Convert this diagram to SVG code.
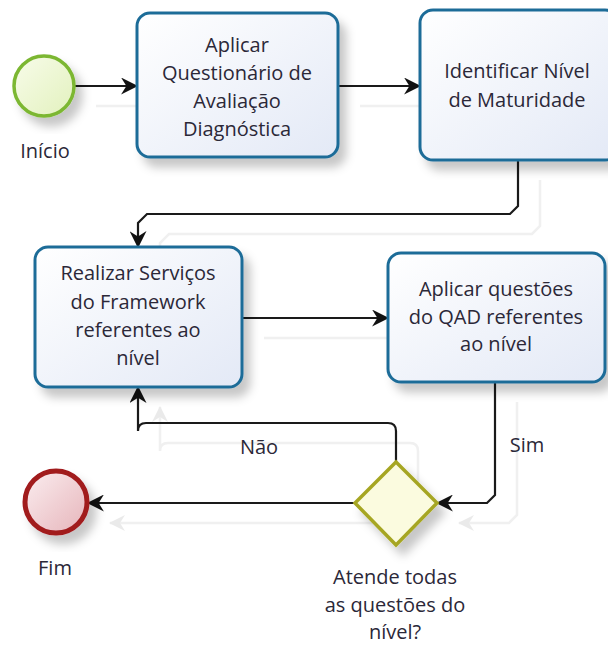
<svg xmlns="http://www.w3.org/2000/svg" width="608" height="646" viewBox="0 0 608 646">
<defs>
<style>
text{font-family:"Open Sans","Noto Sans","DejaVu Sans",sans-serif;font-size:20px;fill:#2b2838;text-anchor:middle}
.task{fill:url(#gTask);stroke:#1f6c98;stroke-width:3}
.c{fill:none;stroke:#1a1a1a;stroke-width:2.2;marker-end:url(#arr)}
.g{fill:none;stroke:#f0f0f0;stroke-width:2.5;marker-end:url(#arrG)}
</style>
<linearGradient id="gTask" x1="0" y1="0" x2="1" y2="1">
<stop offset="0" stop-color="#ffffff"/><stop offset="1" stop-color="#e3e9f6"/>
</linearGradient>
<linearGradient id="gStart" x1="0" y1="0" x2="1" y2="1">
<stop offset="0" stop-color="#f8fcea"/><stop offset="1" stop-color="#e2f1bd"/>
</linearGradient>
<linearGradient id="gEnd" x1="0" y1="0" x2="1" y2="1">
<stop offset="0" stop-color="#fbeef0"/><stop offset="1" stop-color="#e6b4ba"/>
</linearGradient>
<filter id="sh" x="-20%" y="-20%" width="150%" height="150%">
<feDropShadow dx="7" dy="9" stdDeviation="5" flood-color="#000" flood-opacity="0.22"/>
</filter>
<marker id="arr" viewBox="0 0 16 16" refX="15" refY="8" markerWidth="17" markerHeight="17" markerUnits="userSpaceOnUse" orient="auto">
<path d="M0,0 L16,8 L0,16 L5,8 Z" fill="#111"/>
</marker>
<marker id="arrG" viewBox="0 0 16 16" refX="15" refY="8" markerWidth="16" markerHeight="16" markerUnits="userSpaceOnUse" orient="auto">
<path d="M0,0 L16,8 L0,16 L5,8 Z" fill="#eaeaea"/>
</marker>
</defs>
<rect width="608" height="646" fill="#ffffff"/>

<g id="ghosts" transform="translate(22,20)">
<path class="g" d="M74,86 H137"/>
<path class="g" d="M338,86 H420"/>
<path class="g" d="M518,160 V206 L510,214 H147 L138,223 V247"/>
<path class="g" d="M242,318 H388"/>
<path class="g" d="M495,382 V495 L487,503 H437"/>
<path class="g" d="M396,462 V431 Q396,423 388,423 H146 Q138,423 138,431 V387"/>
<path class="g" d="M355,503 H88"/>
</g>

<g id="connectors">
<path class="c" d="M74,86 H137"/>
<path class="c" d="M338,86 H420"/>
<path class="c" d="M518,160 V206 L510,214 H147 L138,223 V247"/>
<path class="c" d="M242,318 H388"/>
<path class="c" d="M495,382 V495 L487,503 H437"/>
<path class="c" d="M396,462 V431 Q396,423 388,423 H146 Q138,423 138,431 V387"/>
<path class="c" d="M355,503 H88"/>
<text x="259" y="454">Não</text>
<text x="527" y="452">Sim</text>
</g>

<g id="start">
<circle cx="44" cy="86" r="30" fill="url(#gStart)" stroke="#7cb731" stroke-width="3.5" filter="url(#sh)"/>
<text x="45" y="158">Início</text>
</g>

<g id="task1">
<rect class="task" x="137" y="13" width="201" height="144" rx="13" filter="url(#sh)"/>
<text x="237" y="52">Aplicar</text>
<text x="237" y="80">Questionário de</text>
<text x="237" y="108">Avaliação</text>
<text x="237" y="136">Diagnóstica</text>
</g>

<g id="task2">
<rect class="task" x="420" y="10" width="198" height="150" rx="13" filter="url(#sh)"/>
<text x="517" y="78">Identificar Nível</text>
<text x="517" y="107">de Maturidade</text>
</g>

<g id="task3">
<rect class="task" x="35" y="247" width="207" height="140" rx="13" filter="url(#sh)"/>
<text x="138" y="280">Realizar Serviços</text>
<text x="138" y="309">do Framework</text>
<text x="138" y="337">referentes ao</text>
<text x="138" y="365">nível</text>
</g>

<g id="task4">
<rect class="task" x="388" y="253" width="217" height="129" rx="13" filter="url(#sh)"/>
<text x="496" y="296">Aplicar questões</text>
<text x="496" y="323.5">do QAD referentes</text>
<text x="496" y="351">ao nível</text>
</g>

<g id="gateway">
<path d="M396,462 L437,503 L396,545 L355,503 Z" fill="#fbfbdf" stroke="#a6a624" stroke-width="3.5" filter="url(#sh)"/>
<text x="395" y="584">Atende todas</text>
<text x="395" y="611.5">as questões do</text>
<text x="395" y="639">nível?</text>
</g>

<g id="end">
<circle cx="56" cy="502" r="31" fill="url(#gEnd)" stroke="#a11a1f" stroke-width="5" filter="url(#sh)"/>
<text x="55" y="575">Fim</text>
</g>
</svg>
